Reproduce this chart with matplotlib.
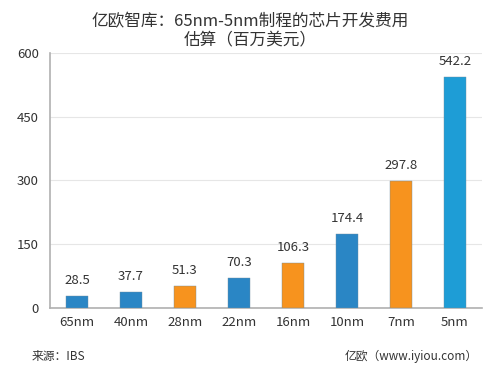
import matplotlib
matplotlib.use('Agg')
import matplotlib.pyplot as plt

plt.rcParams['font.family'] = ['Noto Sans CJK SC', 'DejaVu Sans']

# data
nodes = ['65nm', '40nm', '28nm', '22nm', '16nm', '10nm', '7nm', '5nm']
cost = [28.5, 37.7, 51.3, 70.3, 106.3, 174.4, 297.8, 542.2]
colors = ['#2a86c5', '#2a86c5', '#f7931e', '#2a86c5', '#f7931e',
          '#2a86c5', '#f7931e', '#1e9dd6']
yticks = [0, 150, 300, 450, 600]

fig = plt.figure(figsize=(5, 3.78), dpi=100)
ax = fig.add_axes([0.1, 0.185, 0.864, 0.675])

x = range(len(nodes))
bars = ax.bar(x, cost, width=0.42, color=colors, edgecolor='#6f8ea0', linewidth=0.3, zorder=3)
for i, v in enumerate(cost):
    ax.text(i, v + 22, f'{v:.1f}', ha='center', va='bottom', fontsize=9.5, color='#333333')

ax.set_xlim(-0.5, 7.5)
ax.set_ylim(0, 600)
ax.set_yticks(yticks)
ax.set_xticks(list(x))
ax.set_xticklabels(nodes)
ax.tick_params(length=0, labelsize=9.5, colors='#333333')
ax.tick_params(axis='y', pad=8)
ax.tick_params(axis='x', pad=6)
ax.grid(axis='y', color='#e6e6e6', linewidth=0.8, zorder=0)
for s in ['top', 'right']:
    ax.spines[s].set_visible(False)
ax.spines['left'].set_color('#b0b0b0')
ax.spines['bottom'].set_color('#b0b0b0')
ax.spines['left'].set_linewidth(1.2)
ax.spines['bottom'].set_linewidth(1.2)

fig.text(0.5, 0.965, '亿欧智库：65nm-5nm制程的芯片开发费用\n估算（百万美元）',
         ha='center', va='top', fontsize=12, color='#333333', linespacing=1.2)
fig.text(0.064, 0.058, '来源：IBS', ha='left', va='center', fontsize=8.5, color='#333333')
fig.text(0.955, 0.058, '亿欧（www.iyiou.com）', ha='right', va='center', fontsize=8.5, color='#333333')

fig.savefig('out.png', dpi=100, facecolor='white')
